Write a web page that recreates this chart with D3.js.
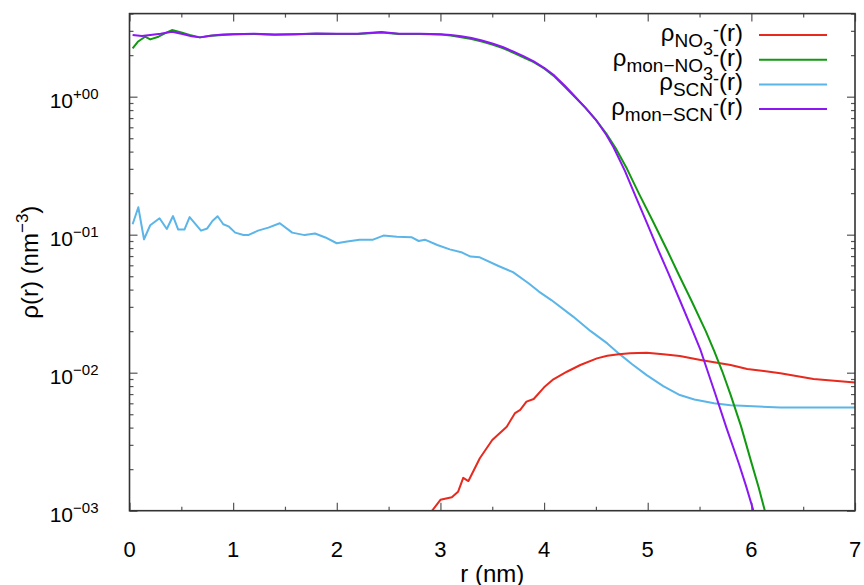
<!DOCTYPE html>
<html>
<head>
    <title>Density profiles</title>
    <script src="https://cdnjs.cloudflare.com/ajax/libs/d3/7.8.5/d3.min.js"></script>
    <style>
        body {
            margin: 0;
            background-color: white;
        }
        svg {
            display: block;
            font-family: "Liberation Sans", Arial, sans-serif;
        }
        .tick line {
            stroke: #555;
            stroke-width: 1.2px;
        }
        .domain {
            display: none;
        }
    </style>
</head>
<body>
    <div id="chart"></div>

    <script>
        // Data, r in nm, rho in nm^-3
        const rNO3 = [2.88, 2.92, 3.0, 3.11, 3.17, 3.22, 3.27, 3.38, 3.5, 3.64, 3.72, 3.77, 3.83, 3.9, 4.0, 4.09, 4.22, 4.35, 4.51, 4.61, 4.72, 4.83, 4.99, 5.15, 5.31, 5.51, 5.67, 5.8, 5.96, 6.12, 6.28, 6.6, 7.0];
        const rhoNO3 = [0.0009, 0.001, 0.0012, 0.00125, 0.00137, 0.00173, 0.00164, 0.0024, 0.00325, 0.00406, 0.0051, 0.00537, 0.00617, 0.00645, 0.00783, 0.00895, 0.01016, 0.01137, 0.0127, 0.01328, 0.0136, 0.01384, 0.01397, 0.01359, 0.01321, 0.01237, 0.0118, 0.01137, 0.01064, 0.01028, 0.0099, 0.009, 0.0085];

        const rMonNO3 = [0.03, 0.08, 0.15, 0.2, 0.28, 0.35, 0.41, 0.5, 0.58, 0.68, 0.78, 0.9, 1.0, 1.2, 1.4, 1.6, 1.8, 2.0, 2.2, 2.43, 2.6, 2.8, 3.0, 3.1, 3.2, 3.3, 3.4, 3.5, 3.6, 3.7, 3.8, 3.9, 4.0, 4.1, 4.2, 4.3, 4.4, 4.5, 4.6, 4.69, 4.8, 4.92, 5.05, 5.19, 5.3, 5.42, 5.56, 5.64, 5.72, 5.8, 5.9, 6.0, 6.07, 6.13, 6.2];
        const rhoMonNO3 = [2.24, 2.5, 2.72, 2.6, 2.72, 2.9, 3.04, 2.92, 2.8, 2.69, 2.76, 2.8, 2.83, 2.85, 2.81, 2.83, 2.86, 2.85, 2.85, 2.92, 2.85, 2.85, 2.82, 2.77, 2.7, 2.62, 2.51, 2.39, 2.25, 2.09, 1.93, 1.78, 1.6, 1.4, 1.18, 0.99, 0.83, 0.68, 0.54, 0.425, 0.3, 0.195, 0.125, 0.0765, 0.0513, 0.0335, 0.02, 0.01445, 0.0102, 0.0069, 0.0041, 0.00224, 0.00148, 0.001, 0.00066];

        const rSCN = [0.03, 0.085, 0.14, 0.2, 0.29, 0.36, 0.42, 0.47, 0.53, 0.58, 0.69, 0.75, 0.8, 0.85, 0.905, 0.955, 1.02, 1.1, 1.15, 1.24, 1.34, 1.45, 1.57, 1.69, 1.79, 1.89, 2.0, 2.1, 2.22, 2.35, 2.45, 2.58, 2.72, 2.79, 2.85, 2.97, 3.09, 3.21, 3.29, 3.38, 3.56, 3.7, 3.85, 3.95, 4.07, 4.28, 4.45, 4.61, 4.72, 4.85, 4.99, 5.15, 5.31, 5.45, 5.64, 5.8, 5.96, 6.28, 6.6, 7.0];
        const rhoSCN = [0.119, 0.158, 0.0927, 0.117, 0.1315, 0.11, 0.1365, 0.109, 0.109, 0.134, 0.107, 0.111, 0.1256, 0.136, 0.119, 0.115, 0.1035, 0.0996, 0.0996, 0.107, 0.1125, 0.121, 0.1035, 0.0993, 0.102, 0.0955, 0.0867, 0.0893, 0.092, 0.092, 0.0985, 0.0965, 0.096, 0.09, 0.092, 0.0842, 0.0783, 0.0742, 0.0694, 0.0685, 0.0593, 0.0535, 0.0445, 0.0387, 0.0336, 0.0255, 0.02, 0.0163, 0.0138, 0.0115, 0.0096, 0.008, 0.00689, 0.0064, 0.006, 0.0058, 0.00574, 0.0056, 0.0056, 0.0056];

        const rMonSCN = [0.03, 0.12, 0.2, 0.3, 0.41, 0.5, 0.6, 0.68, 0.8, 0.9, 1.0, 1.2, 1.4, 1.6, 1.8, 2.0, 2.2, 2.43, 2.6, 2.8, 3.0, 3.1, 3.2, 3.3, 3.4, 3.5, 3.6, 3.7, 3.8, 3.9, 4.0, 4.1, 4.2, 4.3, 4.4, 4.5, 4.6, 4.67, 4.78, 4.88, 5.0, 5.1, 5.2, 5.31, 5.43, 5.51, 5.65, 5.76, 5.88, 5.95, 6.02, 6.08];
        const rhoMonSCN = [2.8, 2.75, 2.8, 2.86, 2.95, 2.86, 2.74, 2.69, 2.78, 2.82, 2.84, 2.86, 2.82, 2.84, 2.87, 2.86, 2.86, 2.94, 2.86, 2.86, 2.84, 2.8, 2.74, 2.66, 2.55, 2.43, 2.29, 2.13, 1.97, 1.8, 1.62, 1.42, 1.2, 1.0, 0.83, 0.68, 0.53, 0.43, 0.29, 0.192, 0.118, 0.078, 0.0525, 0.0335, 0.0204, 0.01455, 0.0071, 0.00398, 0.00219, 0.0015, 0.001, 0.0007];

        const xTicks = [0, 1, 2, 3, 4, 5, 6, 7];
        const yTicks = [1e-3, 1e-2, 1e-1, 1];
        const yTickExp = ["−03", "−02", "−01", "+00"];

        const width = 864;
        const height = 585;
        const margin = {left: 129.5, right: 9, top: 13.6, bottom: 74.3};

        const svg = d3.select("#chart")
            .append("svg")
            .attr("width", width)
            .attr("height", height);

        const x = d3.scaleLinear()
            .domain([0, 7])
            .range([margin.left, width - margin.right]);

        const y = d3.scaleLog()
            .domain([1e-3, 4])
            .range([height - margin.bottom, margin.top]);

        const x0 = x.range()[0], x1 = x.range()[1];
        const yb = y.range()[0], yt = y.range()[1];

        // minor ticks: halves on x, 2..9 per decade on y
        const xMinor = d3.range(0.5, 7, 1);
        const yMinor = [];
        [1e-3, 1e-2, 1e-1, 1].forEach(d => {
            for (let k = 2; k <= 9; k++) {
                if (d * k <= 4) yMinor.push(d * k);
            }
        });

        // ticks point inward on all four sides
        function addTicks(axis, values, size, transform) {
            svg.append("g")
                .attr("transform", transform)
                .call(axis.tickValues(values).tickSize(-size).tickFormat(""));
        }
        addTicks(d3.axisBottom(x), xTicks, 8, `translate(0,${yb})`);
        addTicks(d3.axisBottom(x), xMinor, 4, `translate(0,${yb})`);
        addTicks(d3.axisTop(x), xTicks, 8, `translate(0,${yt})`);
        addTicks(d3.axisTop(x), xMinor, 4, `translate(0,${yt})`);
        addTicks(d3.axisLeft(y), yTicks, 8, `translate(${x0},0)`);
        addTicks(d3.axisLeft(y), yMinor, 4, `translate(${x0},0)`);
        addTicks(d3.axisRight(y), yTicks, 8, `translate(${x1},0)`);
        addTicks(d3.axisRight(y), yMinor, 4, `translate(${x1},0)`);

        // tick labels
        svg.append("g")
            .selectAll("text")
            .data(xTicks)
            .enter()
            .append("text")
            .attr("x", d => x(d))
            .attr("y", yb + 46)
            .attr("text-anchor", "middle")
            .attr("font-size", 22)
            .text(d => d);

        const yl = svg.append("g")
            .selectAll("text")
            .data(yTicks)
            .enter()
            .append("text")
            .attr("x", 98.5)
            .attr("y", d => y(d) + 11.5)
            .attr("text-anchor", "end")
            .attr("font-size", 21);
        yl.append("tspan").text("10");
        yl.append("tspan")
            .attr("font-size", 15)
            .attr("dy", -9)
            .text((d, i) => yTickExp[i]);

        // axis titles
        svg.append("text")
            .attr("x", (x0 + x1) / 2)
            .attr("y", 582)
            .attr("text-anchor", "middle")
            .attr("font-size", 24)
            .text("r (nm)");

        const yTitle = svg.append("text")
            .attr("transform", `translate(38,${(yb + yt) / 2}) rotate(-90)`)
            .attr("text-anchor", "middle")
            .attr("font-size", 24);
        yTitle.append("tspan").text("ρ(r) (nm");
        yTitle.append("tspan").attr("font-size", 17).attr("dy", -10).text("−3");
        yTitle.append("tspan").attr("dy", 10).text(")");

        // curves, clipped to the plot box
        svg.append("clipPath")
            .attr("id", "plot-clip")
            .append("rect")
            .attr("x", x0)
            .attr("y", yt)
            .attr("width", x1 - x0)
            .attr("height", yb - yt);

        const series = [
            {r: rNO3, rho: rhoNO3, color: "#e8291e", sub: "NO", subsub: "3"},
            {r: rMonNO3, rho: rhoMonNO3, color: "#119a11", sub: "mon−NO", subsub: "3"},
            {r: rSCN, rho: rhoSCN, color: "#5bb5e8", sub: "SCN", subsub: null},
            {r: rMonSCN, rho: rhoMonSCN, color: "#8b18f2", sub: "mon−SCN", subsub: null}
        ];

        const line = d3.line()
            .x(d => x(d[0]))
            .y(d => y(d[1]));

        const plot = svg.append("g").attr("clip-path", "url(#plot-clip)");
        // draw order: blue under, red, green, purple on top
        [2, 0, 1, 3].forEach(i => {
            const s = series[i];
            plot.append("path")
                .datum(d3.zip(s.r, s.rho))
                .attr("fill", "none")
                .attr("stroke", s.color)
                .attr("stroke-width", 2)
                .attr("stroke-linejoin", "round")
                .attr("d", line);
        });

        // legend, top right
        series.forEach((s, i) => {
            const ly = 35 + i * 24.7;
            svg.append("line")
                .attr("x1", 759)
                .attr("x2", 827)
                .attr("y1", ly)
                .attr("y2", ly)
                .attr("stroke", s.color)
                .attr("stroke-width", 2);

            const t = svg.append("text")
                .attr("x", 743)
                .attr("y", ly + 6)
                .attr("text-anchor", "end")
                .attr("font-size", 24);
            t.append("tspan").text("ρ");
            t.append("tspan").attr("font-size", 19).attr("dy", 6).text(s.sub);
            if (s.subsub) {
                t.append("tspan").attr("font-size", 18).attr("dy", 8).text(s.subsub);
                t.append("tspan").attr("font-size", 18).attr("dy", -19).text("-");
            } else {
                t.append("tspan").attr("font-size", 18).attr("dy", -11).text("-");
            }
            t.append("tspan").attr("dy", 5).text("(r)");
        });

        // border
        svg.append("rect")
            .attr("x", x0)
            .attr("y", yt)
            .attr("width", x1 - x0)
            .attr("height", yb - yt)
            .attr("fill", "none")
            .attr("stroke", "#333")
            .attr("stroke-width", 1.6);
    </script>
</body>
</html>
